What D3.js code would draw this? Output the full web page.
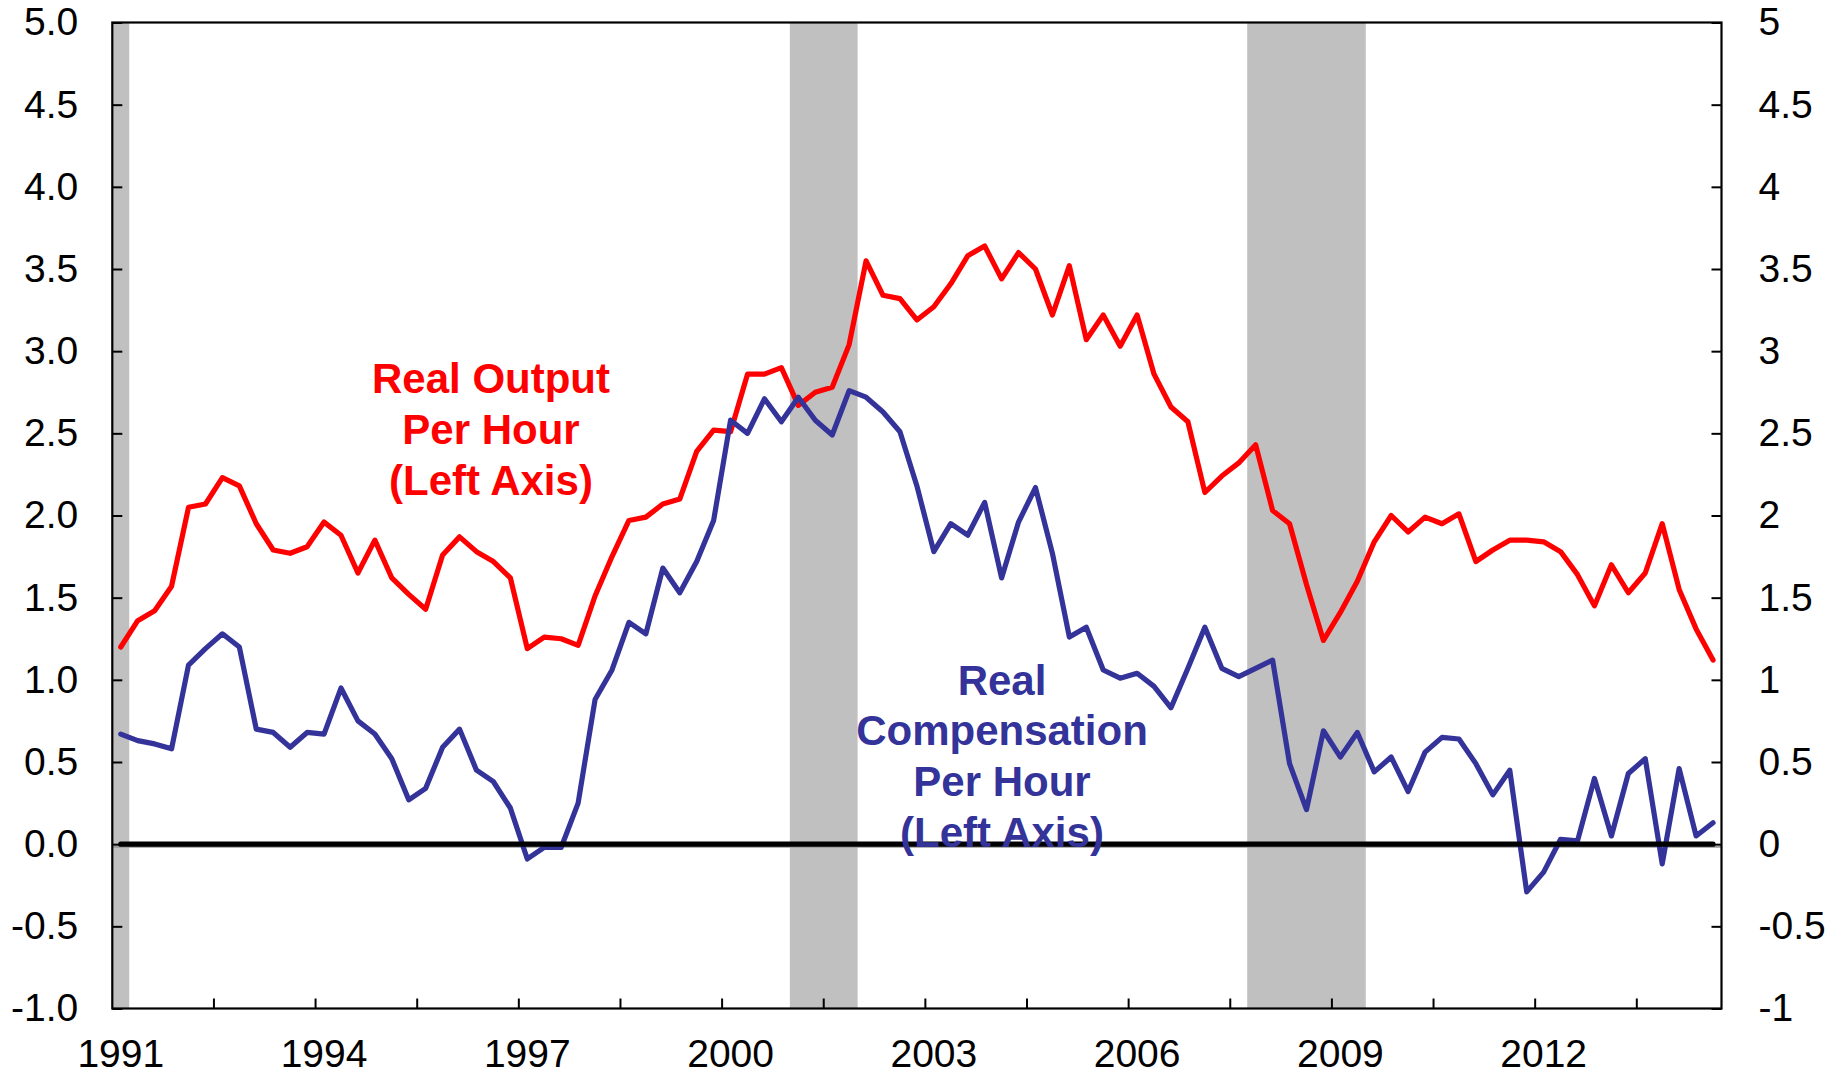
<!DOCTYPE html>
<html><head><meta charset="utf-8">
<script src="https://cdn.jsdelivr.net/npm/d3@7"></script>
<style>html,body{margin:0;padding:0;background:#fff;} svg{display:block;}</style>
</head><body>
<svg id="chart" width="1837" height="1077"></svg>
<script>
// Categories: quarters 1991Q1 .. 2014Q3
const quarters = [];
for (let y = 1991; y <= 2014; y++) for (let q = 1; q <= 4; q++) if (!(y === 2014 && q === 4)) quarters.push(y + "Q" + q);

// Real output per hour (left axis), % change
const outputPerHour = [
 1.20,1.36,1.42,1.57, 2.05,2.07,2.23,2.18, 1.95,1.79,1.77,1.81, 1.96,1.88,1.65,1.85,
 1.62,1.52,1.43,1.76, 1.87,1.78,1.72,1.62, 1.19,1.26,1.25,1.21, 1.51,1.75,1.97,1.99,
 2.07,2.10,2.39,2.52, 2.51,2.86,2.86,2.90, 2.67,2.75,2.78,3.04, 3.55,3.34,3.32,3.19,
 3.27,3.41,3.58,3.64, 3.44,3.60,3.50,3.22, 3.52,3.07,3.22,3.03, 3.22,2.86,2.66,2.57,
 2.14,2.24,2.32,2.43, 2.03,1.95,1.58,1.24, 1.41,1.60,1.84,2.00, 1.90,1.99,1.95,2.01,
 1.72,1.79,1.85,1.85, 1.84,1.78,1.64,1.45, 1.70,1.53,1.65,1.95, 1.55,1.31,1.12
];
// Real compensation per hour (left axis), % change
const compPerHour = [
 0.67,0.63,0.61,0.58, 1.09,1.19,1.28,1.20, 0.70,0.68,0.59,0.68, 0.67,0.95,0.75,0.67,
 0.52,0.27,0.34,0.59, 0.70,0.45,0.38,0.22, -0.09,-0.02,-0.02,0.25, 0.88,1.06,1.35,1.28,
 1.68,1.53,1.72,1.97, 2.58,2.50,2.71,2.57, 2.72,2.58,2.49,2.76, 2.72,2.63,2.51,2.18,
 1.78,1.95,1.88,2.08, 1.62,1.96,2.17,1.77, 1.26,1.32,1.06,1.01, 1.04,0.96,0.83,1.07,
 1.32,1.07,1.02,1.07, 1.12,0.49,0.21,0.69, 0.53,0.68,0.44,0.53, 0.32,0.56,0.65,0.64,
 0.49,0.30,0.45,-0.29, -0.17,0.03,0.02,0.40, 0.05,0.43,0.52,-0.12, 0.46,0.05,0.13
];
const zeroLine = quarters.map(() => 0);

// Recession shading (first and last quarter)
const recessions = [["1991Q1","1991Q1"],["2001Q1","2001Q4"],["2007Q4","2009Q2"]];

const xLabelQuarters = ["1991Q1","1994Q1","1997Q1","2000Q1","2003Q1","2006Q1","2009Q1","2012Q1"];
const leftTicks = [5.0,4.5,4.0,3.5,3.0,2.5,2.0,1.5,1.0,0.5,0.0,-0.5,-1.0];
const rightTicks = [5,4.5,4,3.5,3,2.5,2,1.5,1,0.5,0,-0.5,-1];

const L = 112.3, R = 1721.5, T = 22.5, B = 1008.5;
const FONT = "'Liberation Sans', Arial, Helvetica, sans-serif";
const TICKFONT = 39;
const svg = d3.select("#chart");
svg.append("rect").attr("width",1837).attr("height",1077).attr("fill","#fff");

const x = d3.scaleBand().domain(quarters).range([L, R]).padding(0);
const xc = q => x(q) + x.bandwidth()/2;
const y = d3.scaleLinear().domain([-1, 5]).range([B, T]);

// recession bars
svg.append("g").selectAll("rect").data(recessions).join("rect")
  .attr("x", d => x(d[0]))
  .attr("y", T)
  .attr("width", d => x(d[1]) + x.bandwidth() - x(d[0]))
  .attr("height", B - T)
  .attr("fill", "#c0c0c0");

// thin grey axis line at zero
svg.append("line").attr("x1", L).attr("x2", R).attr("y1", y(0)+2.8).attr("y2", y(0)+2.8)
  .attr("stroke", "#9a9a9a").attr("stroke-width", 1.8);

// frame
svg.append("rect").attr("x", L).attr("y", T).attr("width", R-L).attr("height", B-T)
  .attr("fill","none").attr("stroke","#000").attr("stroke-width",2.2);

// left axis
const gl = svg.append("g").attr("transform", `translate(${L},0)`)
  .call(d3.axisLeft(y).tickValues(leftTicks).tickSizeInner(-10).tickSizeOuter(0).tickPadding(34)
    .tickFormat(d => d.toFixed(1)));
gl.select(".domain").remove();
gl.selectAll("line").attr("stroke","#000").attr("stroke-width",2);
gl.selectAll("text").attr("font-family",FONT).attr("font-size",TICKFONT).attr("fill","#000");

// right axis
const gr = svg.append("g").attr("transform", `translate(${R},0)`)
  .call(d3.axisRight(y).tickValues(rightTicks).tickSizeInner(-10).tickSizeOuter(0).tickPadding(37)
    .tickFormat(d => String(d)));
gr.select(".domain").remove();
gr.selectAll("line").attr("stroke","#000").attr("stroke-width",2);
gr.selectAll("text").attr("font-family",FONT).attr("font-size",TICKFONT).attr("fill","#000");

// bottom tick marks every 6 quarters (band boundaries)
const tickIdx = d3.range(6, quarters.length, 6);
svg.append("g").selectAll("line").data(tickIdx).join("line")
  .attr("x1", i => x(quarters[i])).attr("x2", i => x(quarters[i]))
  .attr("y1", B).attr("y2", B - 10).attr("stroke","#000").attr("stroke-width",2);

// bottom labels
const gb = svg.append("g").attr("transform", `translate(0,${B})`)
  .call(d3.axisBottom(x).tickValues(xLabelQuarters).tickSize(0).tickPadding(31)
    .tickFormat(q => q.slice(0,4)));
gb.select(".domain").remove();
gb.selectAll("text").attr("font-family",FONT).attr("font-size",TICKFONT).attr("fill","#000");

// lines
const line = d3.line().x((d,i) => xc(quarters[i])).y(d => y(d));
svg.append("path").datum(outputPerHour).attr("d", line).attr("fill","none")
  .attr("stroke","#ff0000").attr("stroke-width",5.2).attr("stroke-linejoin","round").attr("stroke-linecap","round");
svg.append("path").datum(compPerHour).attr("d", line).attr("fill","none")
  .attr("stroke","#333399").attr("stroke-width",5.2).attr("stroke-linejoin","round").attr("stroke-linecap","round");
svg.append("path").datum(zeroLine).attr("d", line).attr("fill","none")
  .attr("stroke","#000").attr("stroke-width",5.2).attr("stroke-linecap","round");

// annotations
function label(lines, cx, y0, color) {
  const t = svg.append("text").attr("text-anchor","middle").attr("font-family",FONT)
    .attr("font-weight","bold").attr("font-size",42).attr("fill",color);
  lines.forEach((s,k) => t.append("tspan").attr("x",cx).attr("y", y0 + k*50.8).text(s));
}
label(["Real Output","Per Hour","(Left Axis)"], 491, 393, "#ff0000");
label(["Real","Compensation","Per Hour","(Left Axis)"], 1002, 694.5, "#333399");
</script>
</body></html>
